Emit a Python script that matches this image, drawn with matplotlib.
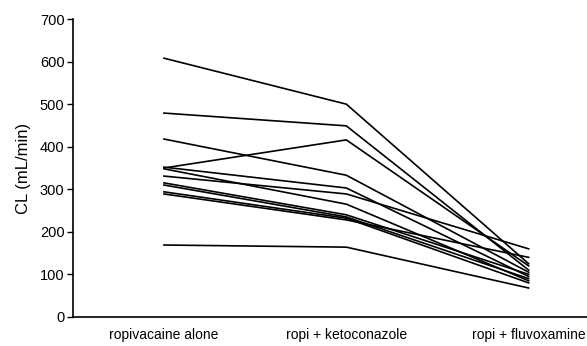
import numpy as np
import matplotlib
matplotlib.use("Agg")
import matplotlib.pyplot as plt

plt.rcParams['font.family'] = ['Liberation Sans', 'DejaVu Sans']

# ====== Data (clearance per subject, mL/min) ======
conditions = ["ropivacaine alone", "ropi + ketoconazole", "ropi + fluvoxamine"]
alone = [608, 479, 418, 350, 352, 348, 331, 315, 310, 294, 289, 169]
keto = [500, 449, 333, 416, 303, 265, 289, 240, 235, 232, 228, 164]
fluvox = [125, 110, 105, 120, 95, 85, 160, 100, 90, 80, 140, 68]

yticks = [0, 100, 200, 300, 400, 500, 600, 700]

# ====== Plot ======
fig = plt.figure(figsize=(5.87, 3.46), dpi=100)
ax = fig.add_axes([0.124, 0.084, 0.876, 0.861])

x = np.arange(len(conditions))
for a, k, f in zip(alone, keto, fluvox):
    ax.plot(x, [a, k, f], color='black', lw=1.2)

ax.set_xlim(-0.5, 2.32)
ax.set_ylim(0, 700)
ax.set_yticks(yticks)
ax.set_xticks(x)
ax.set_xticklabels(conditions, fontsize=10)
ax.tick_params(axis='x', length=0, pad=8)
ax.tick_params(axis='y', length=4, width=1, direction='out', labelsize=10.5, pad=2)
ax.set_ylabel("CL (mL/min)", fontsize=12, labelpad=6)

for s in ['top', 'right']:
    ax.spines[s].set_visible(False)
for s in ['left', 'bottom']:
    ax.spines[s].set_linewidth(1.2)

fig.savefig("out.png", dpi=100)
